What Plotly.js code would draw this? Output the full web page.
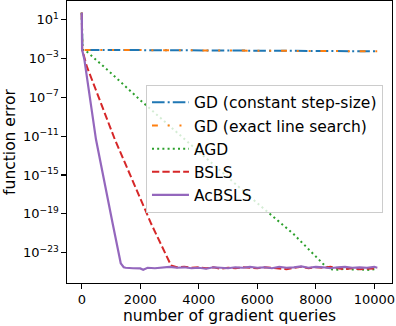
<!DOCTYPE html>
<html>
<head>
<meta charset="utf-8">
<script src="https://cdn.plot.ly/plotly-3.0.1.min.js"></script>
<style>html,body{margin:0;padding:0;background:#fff}</style>
</head>
<body>
<div id="chart" style="width:396px;height:326px"></div>
<script>
// log10 of function error
var seriesNames = ["GD (constant step-size)", "GD (exact line search)", "AGD", "BSLS", "AcBSLS"];

var gdConstX = [0, 25, 2000, 4000, 6000, 8000, 10100];
var gdConstLog = [1.7, -2.13, -2.15, -2.18, -2.2, -2.23, -2.27];

var gdExactX = [0, 25, 2000, 4000, 6000, 8000, 10100];
var gdExactLog = [1.7, -2.13, -2.15, -2.18, -2.2, -2.23, -2.27];

var agdX = [0, 20, 190, 983, 2034, 4000, 6000, 7230, 8300, 8500, 8750, 9000, 9250, 9500, 9750, 10000, 10100];
var agdLog = [1.7, -2.1, -2.35, -4.47, -7.39, -12.6, -17.9, -21.05, -24.3, -24.7, -24.75, -24.65, -24.72, -24.7, -24.78, -24.7, -24.72];

var bslsX = [0, 15, 169, 1129, 2370, 3050, 3250, 3500, 3750, 4000, 4250, 4500, 4750, 5000, 5250, 5500, 5750, 6000, 6250, 6500, 6750, 7000, 7250, 7500, 7750, 8000, 8250, 8500, 8750, 9000, 9250, 9500, 9750, 10000, 10100];
var bslsLog = [1.7, -2.1, -3.8, -11.33, -20.0, -24.3, -24.5, -24.45, -24.55, -24.5, -24.6, -24.5, -24.65, -24.55, -24.6, -24.5, -24.55, -24.6, -24.5, -24.55, -24.6, -24.7, -24.55, -24.45, -24.6, -24.5, -24.55, -24.45, -24.6, -24.7, -24.6, -24.7, -24.65, -24.6, -24.6];

var acbslsX = [0, 10, 88, 485, 1061, 1332, 1434, 1500, 1750, 2000, 2100, 2250, 2500, 2750, 3000, 3250, 3500, 3750, 4000, 4250, 4500, 4750, 5000, 5250, 5500, 5750, 6000, 6250, 6500, 6750, 7000, 7250, 7500, 7750, 8000, 8250, 8500, 8750, 9000, 9250, 9500, 9750, 10000, 10100];
var acbslsLog = [1.7, -2.1, -3.1, -11.33, -20.08, -24.09, -24.5, -24.55, -24.6, -24.62, -24.75, -24.55, -24.6, -24.5, -24.45, -24.55, -24.5, -24.6, -24.55, -24.65, -24.5, -24.55, -24.6, -24.5, -24.55, -24.45, -24.55, -24.5, -24.6, -24.45, -24.55, -24.5, -24.4, -24.55, -24.45, -24.5, -24.6, -24.5, -24.45, -24.55, -24.5, -24.55, -24.45, -24.55];

var yTickVals = [1, -3, -7, -11, -15, -19, -23];
var yTickText = ["10<sup>1</sup>", "10<sup>\u22123</sup>", "10<sup>\u22127</sup>", "10<sup>\u221211</sup>", "10<sup>\u221215</sup>", "10<sup>\u221219</sup>", "10<sup>\u221223</sup>"];
var xTickVals = [0, 2000, 4000, 6000, 8000, 10000];

function pow10(a) { return a.map(function (v) { return Math.pow(10, v); }); }

var traces = [
  {x: gdConstX, y: pow10(gdConstLog), name: seriesNames[0], mode: "lines",
   line: {color: "#1f77b4", width: 2, dash: "12.6px,3.1px,2px,3.1px"}},
  {x: gdExactX, y: pow10(gdExactLog), name: seriesNames[1], mode: "lines",
   line: {color: "#ff7f0e", width: 2, dash: "5.9px,9.8px,2px,9.8px,2px,9.8px"}},
  {x: agdX, y: pow10(agdLog), name: seriesNames[2], mode: "lines",
   line: {color: "#2ca02c", width: 2, dash: "2px,3.2px"}},
  {x: bslsX, y: pow10(bslsLog), name: seriesNames[3], mode: "lines",
   line: {color: "#d62728", width: 2, dash: "7.3px,3.1px"}},
  {x: acbslsX, y: pow10(acbslsLog), name: seriesNames[4], mode: "lines",
   line: {color: "#9467bd", width: 2.2}}
];

var tickFont = {family: "DejaVu Sans", size: 13, color: "#000"};
var labelFont = {family: "DejaVu Sans", size: 15.5, color: "#000"};
var layout = {
  width: 396, height: 326,
  margin: {l: 67, r: 4, t: 1, b: 43, pad: 0},
  paper_bgcolor: "#fff", plot_bgcolor: "#fff",
  font: tickFont,
  showlegend: true,
  legend: {x: 0.243, y: 0.703, xanchor: "left", yanchor: "top", itemwidth: 37,
           bgcolor: "rgba(255,255,255,0.8)", bordercolor: "#cccccc", borderwidth: 1,
           font: labelFont},
  xaxis: {range: [-505, 10605], tickvals: xTickVals, ticktext: xTickVals.map(String),
          showgrid: false, zeroline: false, showline: true, mirror: true,
          linecolor: "#000", linewidth: 1.1, ticks: "outside", ticklen: 4.5, tickwidth: 1.1, tickcolor: "#000",
          tickfont: tickFont,
          title: {text: "number of gradient queries", font: labelFont, standoff: 3}},
  yaxis: {type: "log", range: [-26.118, 2.904], tickvals: pow10(yTickVals), ticktext: yTickText,
          showgrid: false, zeroline: false, showline: true, mirror: true,
          linecolor: "#000", linewidth: 1.1, ticks: "outside", ticklen: 4.5, tickwidth: 1.1, tickcolor: "#000",
          tickfont: tickFont,
          title: {text: "function error", font: labelFont, standoff: 3}}
};

Plotly.newPlot("chart", traces, layout, {displayModeBar: false, staticPlot: true});
</script>
</body>
</html>
